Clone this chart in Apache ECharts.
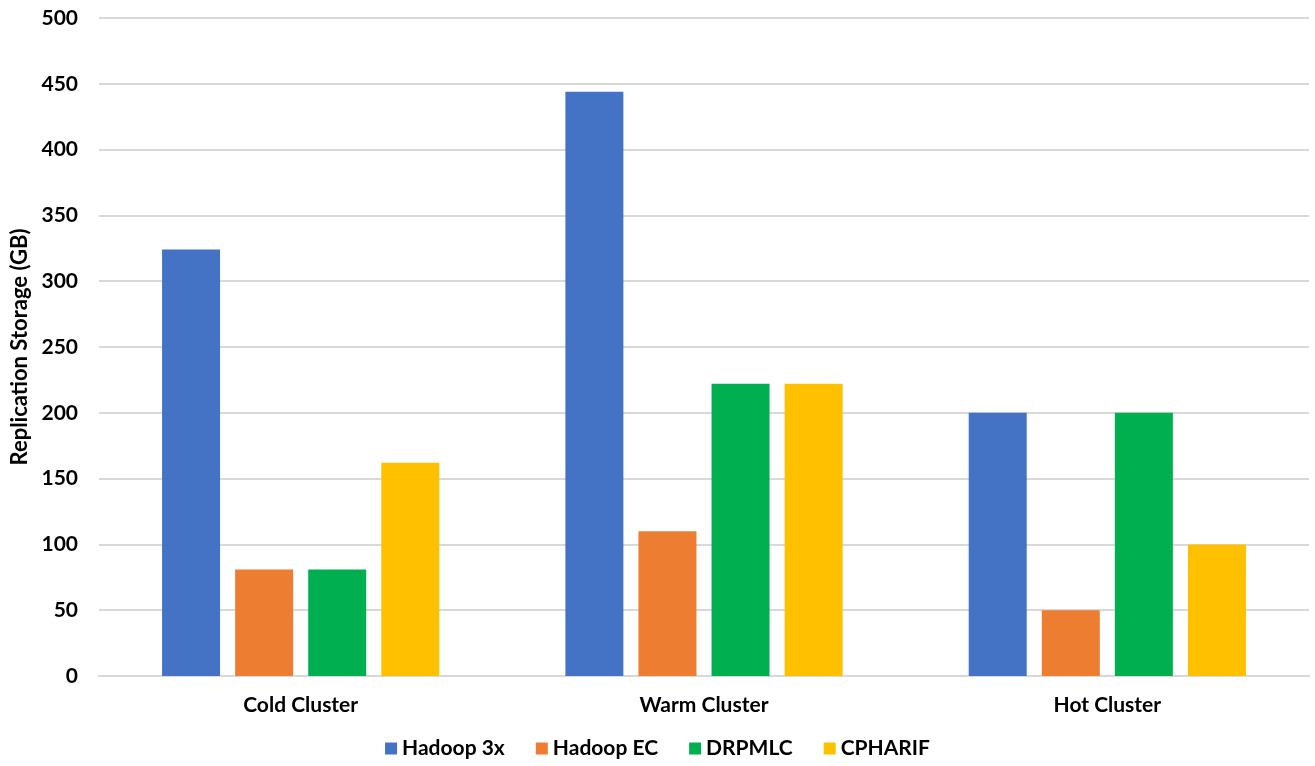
<!DOCTYPE html>
<html>
<head>
<meta charset="utf-8">
<style>
  html, body { margin: 0; padding: 0; background: #fff; }
  #chart { width: 1315px; height: 766px; }
</style>
<script src="https://cdn.jsdelivr.net/npm/echarts@6/dist/echarts.min.js"></script>
</head>
<body>
<div id="chart"></div>
<script>
// Replication storage per cluster type, in GB
const categories = ['Cold Cluster', 'Warm Cluster', 'Hot Cluster'];
const hadoop3x = [324, 444, 200];
const hadoopEC = [81, 110, 50];
const drpmlc = [81, 222, 200];
const cpharif = [162, 222, 100];
const seriesNames = ['Hadoop 3x', 'Hadoop EC', 'DRPMLC', 'CPHARIF'];
const seriesColors = ['#4472C4', '#ED7D31', '#00B050', '#FFC000'];

const FONT = 'Lato, "Open Sans", sans-serif';

const chart = echarts.init(document.getElementById('chart'), null, { renderer: 'canvas' });
const seriesData = [hadoop3x, hadoopEC, drpmlc, cpharif];

chart.setOption({
  animation: false,
  backgroundColor: '#ffffff',
  grid: { left: 99, right: 6, top: 18, bottom: 90, containLabel: false },
  legend: {
    bottom: 2,
    left: 'center',
    itemWidth: 12,
    itemHeight: 12,
    itemGap: 31,
    icon: 'rect',
    textStyle: { fontFamily: FONT, fontWeight: 'bold', fontSize: 21, color: '#000' },
    data: seriesNames
  },
  xAxis: {
    type: 'category',
    data: categories,
    axisLine: { show: true, lineStyle: { color: '#d9d9d9', width: 2 } },
    axisTick: { show: false },
    axisLabel: { fontFamily: FONT, fontWeight: 'bold', fontSize: 21, color: '#000', margin: 19 }
  },
  yAxis: {
    type: 'value',
    min: 0,
    max: 500,
    interval: 50,
    name: 'Replication Storage (GB)',
    nameLocation: 'middle',
    nameGap: 67,
    nameTextStyle: { fontFamily: FONT, fontWeight: 'bold', fontSize: 22, color: '#000' },
    axisLine: { show: false },
    axisTick: { show: false },
    splitLine: { lineStyle: { color: '#d9d9d9', width: 2 } },
    axisLabel: { fontFamily: FONT, fontWeight: 'bold', fontSize: 21, color: '#000', margin: 21 }
  },
  series: seriesNames.map((name, i) => ({
    name,
    type: 'bar',
    data: seriesData[i],
    itemStyle: { color: seriesColors[i] },
    barWidth: 58,
    barGap: '26%'
  }))
});
</script>
</body>
</html>
